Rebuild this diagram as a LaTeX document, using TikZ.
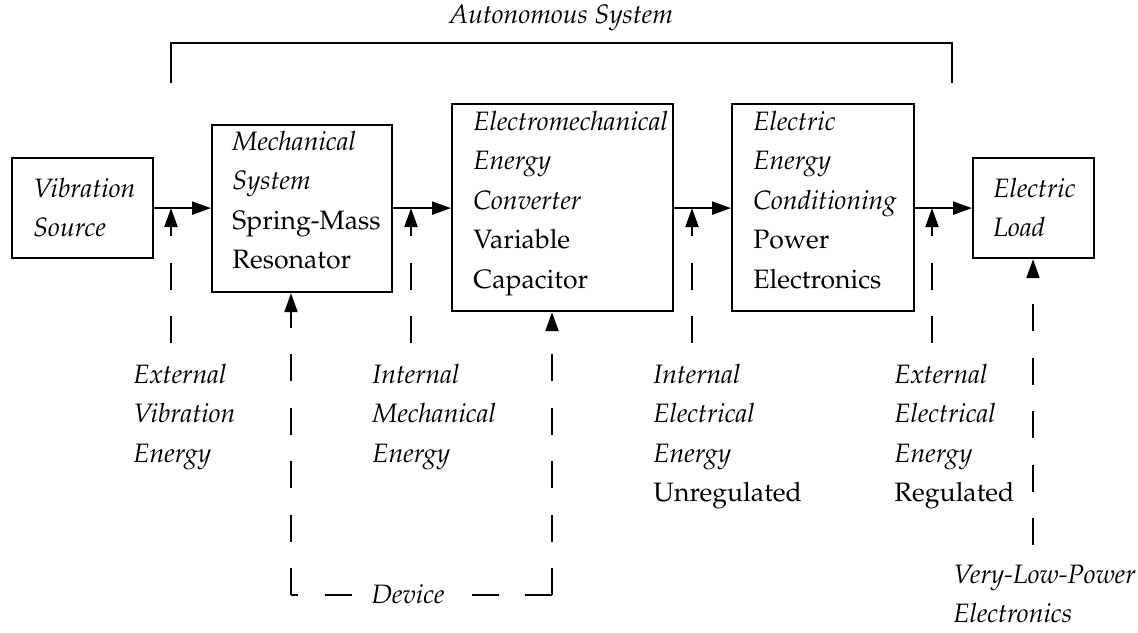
\documentclass[tikz,border=0pt]{standalone}
\usepackage[T1]{fontenc}
\usepackage{mathpazo}
\usetikzlibrary{arrows.meta}
\newcommand\mylines[1]{\begin{tabular}[t]{@{}l@{}}#1\end{tabular}}
\begin{document}
\begin{tikzpicture}[x=0.5pt,y=-0.5pt,
  every node/.style={font=\fontsize{13.3}{19.75}\selectfont},
  box/.style={draw, line width=1.1pt, inner sep=0pt, anchor=north west},
  txt/.style={anchor=base west, inner sep=0pt},
  flow/.style={line width=1.1pt, -{Triangle[length=9.5pt,width=6.5pt]}},
  dashflow/.style={flow, dash pattern=on 13.5pt off 13.25pt},
  dashline/.style={line width=1.1pt, dash pattern=on 13.5pt off 13.25pt},
]
\useasboundingbox (0,0) rectangle (1138,632);

% boxes
\node[box, minimum width=70.5pt, minimum height=50pt]   (vs)   at (11,157) {};
\node[box, minimum width=90pt,   minimum height=83.5pt] (mech) at (211,124) {};
\node[box, minimum width=110.5pt,minimum height=103.5pt](conv) at (451,103) {};
\node[box, minimum width=91pt,   minimum height=103.5pt](cond) at (731,103) {};
\node[box, minimum width=60.5pt, minimum height=50pt]   (load) at (972,157) {};

% box texts
\node[txt] (tvs)   at (33,197)  {\mylines{\textit{Vibration}\\\textit{Source}}};
\node[txt] (tmech) at (232,150) {\mylines{\textit{Mechanical}\\\textit{System}\\Spring-Mass\\Resonator}};
\node[txt] (tconv) at (473,130) {\mylines{\textit{Electromechanical}\\\textit{Energy}\\\textit{Converter}\\Variable\\Capacitor}};
\node[txt] (tcond) at (753,130) {\mylines{\textit{Electric}\\\textit{Energy}\\\textit{Conditioning}\\Power\\Electronics}};
\node[txt] (tload) at (993,197) {\mylines{\textit{Electric}\\\textit{Load}}};

% main flow
\draw[flow] (vs.east) -- (vs.east -| mech.west);
\draw[flow] (mech.west |- vs.east) ++(180,0) coordinate (m1) -- (m1 -| conv.west);
\draw[flow] (conv.west |- vs.east) ++(221,0) coordinate (c1) -- (c1 -| cond.west);
\draw[flow] (cond.west |- vs.east) ++(182,0) coordinate (d1) -- (d1 -| load.west);

% energy dashed arrows
\coordinate (e1) at (171,343);
\coordinate (e2) at (411,343);
\coordinate (e3) at (692,343);
\coordinate (e4) at (932,343);
\draw[dashflow] (e1) -- (e1 |- vs.east);
\draw[dashflow] (e2) -- (e2 |- vs.east);
\draw[dashflow] (e3) -- (e3 |- vs.east);
\draw[dashflow] (e4) -- (e4 |- vs.east);

% energy labels
\node[txt] (l1) at (133,383) {\mylines{\textit{External}\\\textit{Vibration}\\\textit{Energy}}};
\node[txt] (l2) at (372,383) {\mylines{\textit{Internal}\\\textit{Mechanical}\\\textit{Energy}}};
\node[txt] (l3) at (653,383) {\mylines{\textit{Internal}\\\textit{Electrical}\\\textit{Energy}\\Unregulated}};
\node[txt] (l4) at (894,383) {\mylines{\textit{External}\\\textit{Electrical}\\\textit{Energy}\\Regulated}};

% load dashed arrow
\coordinate (lb) at (1033,545);
\draw[dashflow] (lb) -- (lb |- load.south);
\node[txt] (vlp) at (953,583) {\mylines{\textit{Very-Low-Power}\\\textit{Electronics}}};

% device loop
\coordinate (devBL) at (291,595);
\coordinate (devBR) at (552,595);
\coordinate (dl) at (352,595);
\coordinate (dr) at (472,595);
\draw[dashflow] (devBL) -- (devBL |- mech.south);
\draw[dashflow] (devBR) -- (devBR |- conv.south);
\draw[dashline, dash phase=10pt] (devBL) -- (dl);
\draw[dashline] (devBR) -- (dr);
\node[anchor=base, inner sep=0pt] (dev) at (408,603) {\textit{Device}};

% autonomous system bracket
\coordinate (aL) at (171,83);
\coordinate (aR) at (952,83);
\draw[line width=1.1pt] (aL) -- (aL |- 0,43) -- (aR |- 0,43) -- (aR);
\node[anchor=base, inner sep=0pt] (auto) at (561,23) {\textit{Autonomous System}};
\end{tikzpicture}
\end{document}
